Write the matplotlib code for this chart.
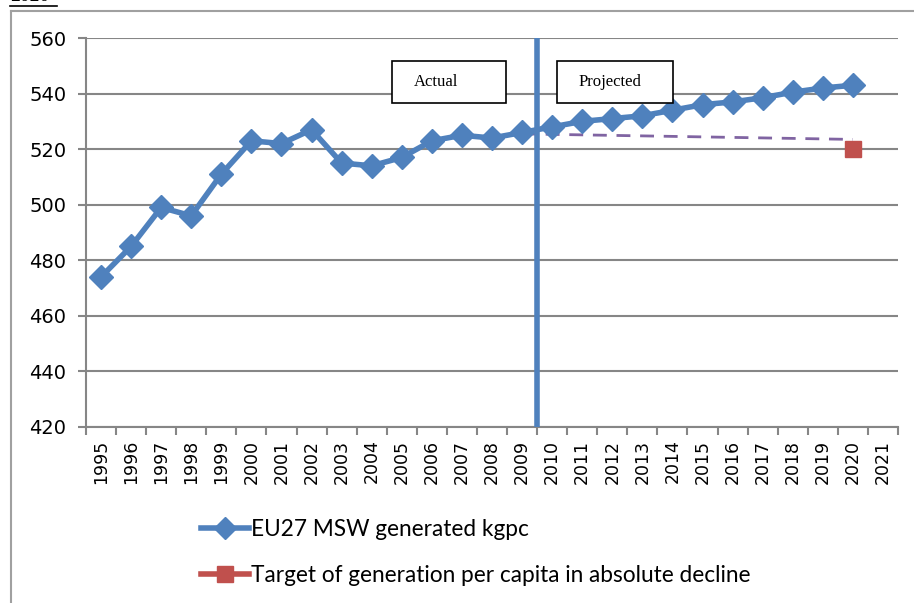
import matplotlib
matplotlib.use('Agg')
import matplotlib.pyplot as plt
from matplotlib.lines import Line2D

# data
years = list(range(1995, 2022))
msw = [474, 485, 499, 496, 511, 523, 522, 527, 515, 514, 517, 523, 525, 524,
       526, 528, 530, 531, 532, 534, 536, 537, 538.5, 540.5, 542, 543]
msw_years = years[:len(msw)]
target_years = [2020]
target_vals = [520]
trend_years = [2009, 2020]
trend_vals = [525.5, 523.5]
split_year = 2009.5
yticks = [420, 440, 460, 480, 500, 520, 540, 560]

blue = '#4F81BD'
red = '#C0504D'
purple = '#8064A2'
grid = '#868686'

plt.rcParams['font.family'] = ['DejaVu Sans']

fig = plt.figure(figsize=(9.14, 6.03), dpi=100)
ax = fig.add_axes([86/914, 1 - 427/603, (898-86)/914, (427-38)/603])

ax.set_xlim(1994.5, 2021.5)
ax.set_ylim(420, 560)

ax.set_yticks(yticks)
ax.set_yticklabels([str(v) for v in yticks], family='DejaVu Sans', fontsize=14)
ax.yaxis.grid(True, color=grid, linewidth=1.5)
ax.set_axisbelow(True)
ax.tick_params(axis='y', length=6, width=1.5, color=grid, pad=8)

ax.set_xticks(years)
ax.set_xticklabels([str(y) for y in years], rotation=90, fontsize=12.5,
                   family='DejaVu Sans')
ax.set_xticks([y - 0.5 for y in years] + [2021.5], minor=True)
ax.tick_params(axis='x', which='major', length=0, pad=9)
ax.tick_params(axis='x', which='minor', length=6, width=1.5, color=grid)

for s in ['top', 'right']:
    ax.spines[s].set_visible(False)
for s in ['left', 'bottom']:
    ax.spines[s].set_color(grid)
    ax.spines[s].set_linewidth(1.5)

ax.plot(trend_years, trend_vals, color=purple, linewidth=2, dashes=(5, 3.5), zorder=2)
ax.plot(msw_years, msw, color=blue, linewidth=4, marker='D', markersize=12,
        zorder=3)
ax.plot(target_years, target_vals, color=red, linestyle='none', marker='s',
        markersize=12, zorder=3)
ax.axvline(split_year, color=blue, linewidth=4, zorder=4)

# text boxes
for x0, x1, label in [(392, 506, 'Actual'), (557, 673, 'Projected')]:
    r = plt.Rectangle((x0/914, 1 - 103/603), (x1-x0)/914, 42/603,
                      transform=fig.transFigure, facecolor='white',
                      edgecolor='black', linewidth=1.2, zorder=5)
    fig.patches.append(r)
    fig.text((x0 + 22)/914, 1 - 82/603, label, family='Liberation Serif',
             fontsize=12, va='center', ha='left', zorder=6)

# legend
handles = [Line2D([], [], color=blue, linewidth=4, marker='D', markersize=11),
           Line2D([], [], color=red, linewidth=4, marker='s', markersize=12)]
labels = ['EU27 MSW generated kgpc', 'Target of generation per capita in absolute decline']
fig.legend(handles, labels, loc='upper left', bbox_to_anchor=(190/914, 1 - 508/603),
           frameon=False, handlelength=2.1, handletextpad=0.1,
           labelspacing=1.1, borderpad=0,
           prop={'family': ['Lato', 'DejaVu Sans'], 'size': 16.3})

# outer chart border and cut-off heading
fig.add_artist(Line2D([11/914, 11/914], [0, 1 - 11/603], color='#A0A0A0', linewidth=1.5))
fig.add_artist(Line2D([11/914, 1], [1 - 11/603, 1 - 11/603], color='#A0A0A0', linewidth=1.5))
fig.text(10/914, 1 - 5/603, '2020', family='Liberation Serif', fontsize=14,
         ha='left', va='bottom')
fig.add_artist(Line2D([10/914, 57/914], [1 - 6/603, 1 - 6/603], color='black', linewidth=1.2))

fig.savefig('out.png', dpi=100)
